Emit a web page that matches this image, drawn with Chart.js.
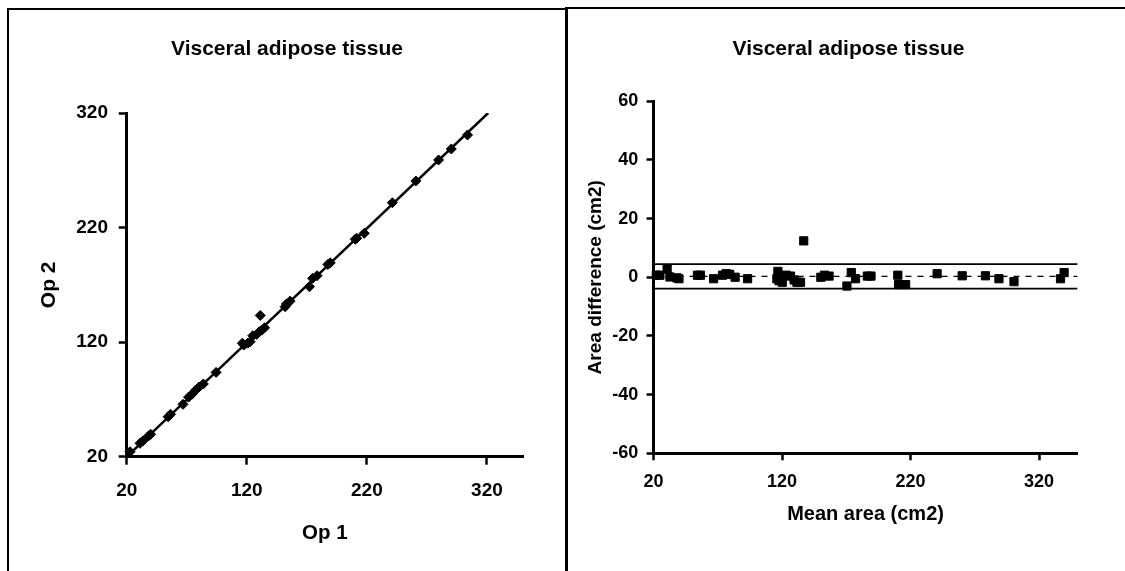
<!DOCTYPE html>
<html>
<head>
<meta charset="utf-8">
<script src="https://cdn.jsdelivr.net/npm/chart.js@4.4.0/dist/chart.umd.min.js"></script>
<style>
    body {
        margin: 0;
        background: #fff;
        width: 1125px;
        height: 571px;
        overflow: hidden;
        position: relative;
    }
    canvas {
        position: absolute;
    }
    .rule {
        position: absolute;
        background: #000;
        z-index: 2;
    }
</style>
</head>
<body>

<div class="rule" style="left:7px;top:8px;width:2px;height:563px"></div>
<div class="rule" style="left:7px;top:8px;width:559px;height:2px"></div>
<div class="rule" style="left:565px;top:7px;width:3px;height:564px"></div>
<div class="rule" style="left:565px;top:7px;width:560px;height:2px"></div>

<canvas id="cLeft" width="556" height="561" style="left:9px;top:10px"></canvas>
<canvas id="cRight" width="557" height="562" style="left:568px;top:9px"></canvas>

<script>
// left panel: operator 1 vs operator 2
const op1 = [22.8, 31.1, 33.5, 38.2, 39.9, 54.5, 56.5, 66.9, 71.5, 74.3,
    77.5, 80.2, 83.8, 94.4, 117.5, 116.3, 120.8, 122.8, 125, 128.3,
    130.3, 132.5, 134.8, 131.2, 151.9, 153, 156.1, 172.2, 174.8, 178.5,
    187.5, 189.5, 210.3, 211.5, 217.8, 241.2, 260.8, 279.7, 290.3, 303.8];
const op2 = [24.4, 31.7, 33.8, 38.1, 39.6, 54.9, 57, 65.7, 72, 74.5,
    78.2, 80.8, 83.5, 93.6, 117.5, 119.1, 119.1, 120.4, 125.6, 126.8,
    129, 130.5, 132.5, 143.3, 150.9, 153.3, 155.8, 168.4, 175.7, 178,
    187.8, 189.2, 209.8, 210.7, 215, 241.7, 260.6, 279, 288.6, 300.8];
const fitX = [20, 321];
const fitY = [20, 320];
const leftTicks = [20, 120, 220, 320];

// right panel: Bland-Altman
const meanArea = [22.2, 25, 30.6, 32.8, 38.1, 39.8, 54.2, 56.5, 66.8, 73.7,
    76.5, 79.3, 83.5, 93.2, 116.8, 116, 117.7, 120.2, 123.2, 126.6,
    129.4, 131.6, 134.4, 136.9, 150.2, 153, 156.6, 170.5, 173.9, 177.2,
    186.4, 189.2, 210.1, 210.7, 216.2, 240.7, 260.2, 278.3, 288.8, 300.5,
    336.7, 339.5];
const areaDiff = [0.7, 0.7, 2.8, 0.1, -0.2, -0.5, 0.7, 0.7, -0.5, 0.7,
    1.2, 1.0, 0, -0.5, 2.0, -0.5, -1.2, -1.7, 0.7, 0.4,
    -0.9, -1.7, -1.7, 12.4, 0, 0.7, 0.4, -3.0, 1.6, -0.5,
    0.4, 0.4, 0.7, -2.5, -2.5, 1.2, 0.5, 0.5, -0.5, -1.5,
    -0.5, 1.6];
const spanX = [20, 350];
const meanDiff = 0.3;
const upperLoA = 4.5;
const lowerLoA = -3.9;
const rightXTicks = [20, 120, 220, 320];

const FONT = "'Liberation Sans', Arial, sans-serif";

const pts = (xs, ys) => xs.map((x, i) => ({ x, y: ys[i] }));
const hline = v => spanX.map(x => ({ x, y: v }));

function axis(min, max, o) {
    return {
        type: "linear",
        min,
        max,
        afterBuildTicks: o.ticks ? s => { s.ticks = o.ticks.map(v => ({ value: v })); } : undefined,
        afterFit: o.fit,
        border: { display: true, color: "#000", width: o.bw },
        grid: {
            display: true,
            drawOnChartArea: false,
            drawTicks: true,
            tickLength: o.tl,
            tickWidth: o.bw - 0.5,
            tickColor: "#000"
        },
        ticks: {
            stepSize: o.step,
            padding: o.tp,
            color: "#000",
            font: { family: FONT, size: o.fs, weight: "bold" }
        },
        title: {
            display: true,
            text: o.title,
            color: "#000",
            font: { family: FONT, size: o.ts, weight: "bold" },
            padding: o.tpad
        }
    };
}

function titleOpts(pt, pb) {
    return {
        display: true,
        text: "Visceral adipose tissue",
        color: "#000",
        font: { family: FONT, size: 21, weight: "bold" },
        padding: { top: pt, bottom: pb }
    };
}

/* left chart */

new Chart(document.getElementById("cLeft"), {
    type: "scatter",
    data: {
        datasets: [
            {
                data: pts(op1, op2),
                pointStyle: "rectRot",
                pointRadius: 5,
                backgroundColor: "#000",
                borderColor: "#000",
                borderWidth: 1,
                clip: false
            },
            {
                data: pts(fitX, fitY),
                showLine: true,
                borderColor: "#000",
                borderWidth: 2.5,
                pointRadius: 0
            }
        ]
    },
    options: {
        responsive: false,
        devicePixelRatio: 1,
        animation: false,
        layout: { padding: 0 },
        plugins: {
            legend: { display: false },
            tooltip: { enabled: false },
            title: titleOpts(26.4, 51.4)
        },
        scales: {
            x: axis(20, 350, {
                ticks: leftTicks, bw: 3, tl: 8, tp: 15, fs: 19,
                title: "Op 1", ts: 20.5, tpad: { top: 0, bottom: 25.7 },
                fit: s => { s.height = 114.3; s.paddingRight = 42; }
            }),
            y: axis(20, 320, {
                ticks: leftTicks, bw: 3, tl: 8, tp: 10.7, fs: 19,
                title: "Op 2", ts: 21, tpad: { top: 27.4, bottom: 0 },
                fit: s => { s.width = 117.7; }
            })
        }
    }
});

/* right chart */

new Chart(document.getElementById("cRight"), {
    type: "scatter",
    data: {
        datasets: [
            {
                data: pts(meanArea, areaDiff),
                pointStyle: "rect",
                pointRadius: 5.8,
                backgroundColor: "#000",
                borderColor: "#000",
                borderWidth: 1,
                clip: false
            },
            {
                data: hline(meanDiff),
                showLine: true,
                borderColor: "#000",
                borderWidth: 1.3,
                borderDash: [6, 6],
                pointRadius: 0
            },
            {
                data: hline(upperLoA),
                showLine: true,
                borderColor: "#000",
                borderWidth: 1.8,
                pointRadius: 0
            },
            {
                data: hline(lowerLoA),
                showLine: true,
                borderColor: "#000",
                borderWidth: 1.8,
                pointRadius: 0
            }
        ]
    },
    options: {
        responsive: false,
        devicePixelRatio: 1,
        animation: false,
        layout: { padding: { left: 4 } },
        plugins: {
            legend: { display: false },
            tooltip: { enabled: false },
            title: titleOpts(27.4, 39.6)
        },
        scales: {
            x: axis(20, 350, {
                ticks: rightXTicks, bw: 3, tl: 7, tp: 10.6, fs: 18,
                title: "Mean area (cm2)", ts: 20, tpad: { top: 0, bottom: 44.5 },
                fit: s => { s.height = 117.7; s.paddingRight = 47.4; }
            }),
            y: axis(-60, 60, {
                step: 20, bw: 3, tl: 7, tp: 8.3, fs: 18,
                title: "Area difference (cm2)", ts: 19, tpad: { top: 12, bottom: 0 },
                fit: s => { s.width = 81.5; }
            })
        }
    }
});
</script>
</body>
</html>
